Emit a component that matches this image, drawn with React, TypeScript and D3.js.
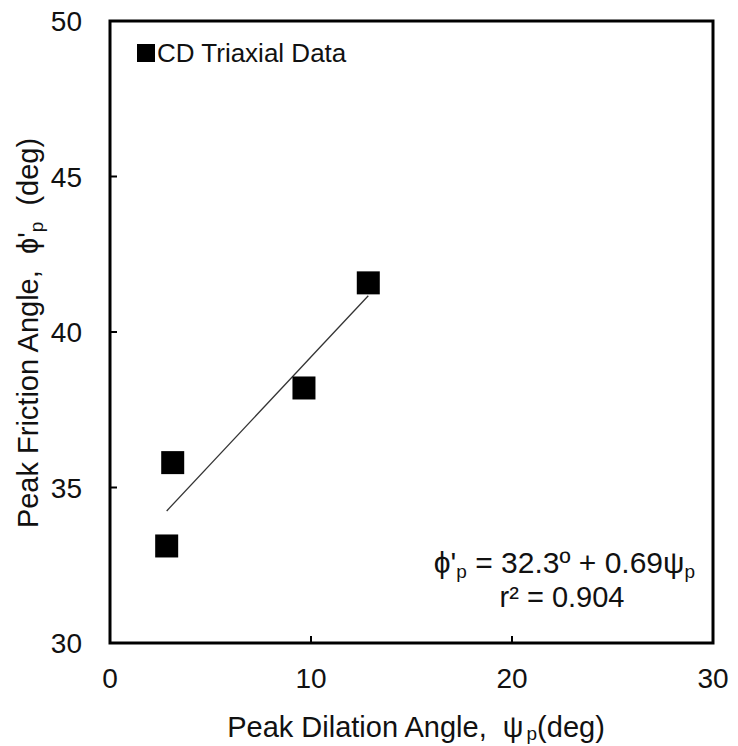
import React from "react";
import * as d3 from "d3";

const dilation = [12.85, 9.65, 3.12, 2.82];
const friction = [41.58, 38.2, 35.8, 33.12];
const xTicks = [0, 10, 20, 30];
const yTicks = [30, 35, 40, 45, 50];
const fitIntercept = 32.3;
const fitSlope = 0.69;
const legendLabel = "CD Triaxial Data";

const W = 738;
const H = 746;
const m = { left: 110, right: 25, top: 21, bottom: 103 };
const FONT = "'Liberation Sans', Arial, sans-serif";
const TXT = "#111";

export default function App() {
  const x = d3.scaleLinear().domain([0, 30]).range([m.left, W - m.right]);
  const y = d3.scaleLinear().domain([30, 50]).range([H - m.bottom, m.top]);
  const xMin = d3.min(dilation) as number;
  const xMax = d3.max(dilation) as number;
  const line = d3
    .line<number>()
    .x((d) => x(d))
    .y((d) => y(fitIntercept + fitSlope * d));
  const ms = 23;
  return (
    <svg
      width={W}
      height={H}
      style={{ position: "absolute", left: 0, top: 0, background: "#fff" }}
      fontFamily={FONT}
    >
      <rect x={0} y={0} width={W} height={H} fill="#fff" />
      {xTicks.map((t) => (
        <g key={"x" + t}>
          <line x1={x(t)} x2={x(t)} y1={y(30)} y2={y(30) - 7} stroke="#000" strokeWidth={2} />
          <text x={x(t)} y={688} textAnchor="middle" fontSize={28} fill={TXT}>
            {t}
          </text>
        </g>
      ))}
      {yTicks.map((t) => (
        <g key={"y" + t}>
          <line x1={x(0)} x2={x(0) + 7} y1={y(t)} y2={y(t)} stroke="#000" strokeWidth={2} />
          <text x={82} y={y(t)} dy="0.36em" textAnchor="end" fontSize={28} fill={TXT}>
            {t}
          </text>
        </g>
      ))}
      <rect
        x={x(0)}
        y={y(50)}
        width={x(30) - x(0)}
        height={y(30) - y(50)}
        fill="none"
        stroke="#000"
        strokeWidth={3}
      />
      <path d={line([xMin, xMax]) || ""} stroke="#333" strokeWidth={1.3} fill="none" />
      {dilation.map((d, i) => (
        <rect
          key={i}
          x={x(d) - ms / 2}
          y={y(friction[i]) - ms / 2}
          width={ms}
          height={ms}
          fill="#000"
        />
      ))}
      <rect x={137} y={44} width={18} height={18} fill="#000" />
      <text x={157} y={62} fontSize={26} fill={TXT}>
        {legendLabel}
      </text>
      <text x={695} y={573} textAnchor="end" fontSize={30} fill={TXT}>
        ϕ'<tspan fontSize={19} dy={5}>p</tspan>
        <tspan dy={-5}> = 32.3º + 0.69ψ</tspan>
        <tspan fontSize={19} dy={5}>p</tspan>
      </text>
      <text x={562} y={607} textAnchor="middle" fontSize={29} fill={TXT}>
        r² = 0.904
      </text>
      <text x={416} y={737} textAnchor="middle" fontSize={29} fill={TXT} style={{ whiteSpace: "pre" }}>
        {"Peak Dilation Angle,  ψ"}
        <tspan fontSize={19} dx={3} dy={3}>p</tspan>
        <tspan dy={-3}>(deg)</tspan>
      </text>
      <text
        transform={`translate(38, 333) rotate(-90)`}
        textAnchor="middle"
        fontSize={29}
        fill={TXT}
        style={{ whiteSpace: "pre" }}
      >
        {"Peak Friction Angle,  ϕ'"}
        <tspan fontSize={19} dy={5}>p</tspan>
        <tspan dy={-5}>{"  (deg)"}</tspan>
      </text>
    </svg>
  );
}
